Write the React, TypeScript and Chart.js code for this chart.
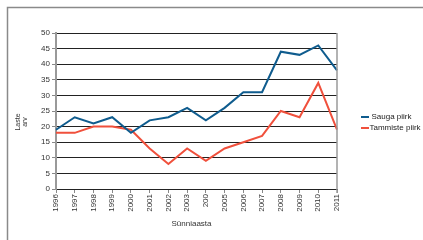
import React, { useEffect, useRef } from "react";
import { Chart, registerables } from "chart.js";

Chart.register(...registerables);

const years = ["1996", "1997", "1998", "1999", "2000", "2001", "2002", "2003", "200", "2005", "2006", "2007", "2008", "2009", "2010", "2011"];
const sauga = [19, 23, 21, 23, 18, 22, 23, 26, 22, 26, 31, 31, 44, 43, 46, 38];
const tammiste = [18, 18, 20, 20, 19, 13, 8, 13, 9, 13, 15, 17, 25, 23, 34, 19];
const seriesNames = ["Sauga piirk", "Tammiste piirk"];
const seriesColors = ["#0f5c8e", "#f0503c"];
const yTitle = ["Laste", "arv"];
const xTitle = "Sünniaasta";

const FONT = "'Liberation Sans', Arial, sans-serif";

const decorPlugin = {
  id: "decor",
  beforeDraw(chart: any) {
    const ctx = chart.ctx;
    ctx.save();
    ctx.strokeStyle = "#8a8a8a";
    ctx.lineWidth = 1.5;
    ctx.beginPath();
    ctx.moveTo(7.5, chart.height);
    ctx.lineTo(7.5, 7.5);
    ctx.lineTo(chart.width, 7.5);
    ctx.stroke();
    ctx.restore();
  },
  afterDraw(chart: any) {
    const ctx = chart.ctx;
    const ca = chart.chartArea;
    ctx.save();
    // right edge line
    ctx.strokeStyle = "#9a9a9a";
    ctx.lineWidth = 1.5;
    ctx.beginPath();
    ctx.moveTo(ca.right, ca.top);
    ctx.lineTo(ca.right, ca.bottom + 4);
    ctx.stroke();
    // y title
    ctx.fillStyle = "#333";
    ctx.font = `7px ${FONT}`;
    ctx.textAlign = "center";
    ctx.textBaseline = "middle";
    ctx.save();
    ctx.translate(21.5, 122);
    ctx.rotate(-Math.PI / 2);
    ctx.fillText(yTitle[0], 0, -3.5);
    ctx.fillText(yTitle[1], 0, 3.5);
    ctx.restore();
    // x title
    ctx.font = `8px ${FONT}`;
    ctx.fillText(xTitle, 191.5, 223.5);
    // legend
    chart.data.datasets.forEach((ds: any, i: number) => {
      const y = 117 + i * 11;
      ctx.strokeStyle = ds.borderColor;
      ctx.lineWidth = 2;
      ctx.beginPath();
      ctx.moveTo(361, y);
      ctx.lineTo(369, y);
      ctx.stroke();
      ctx.fillStyle = "#222";
      ctx.textAlign = "left";
      ctx.font = `8px ${FONT}`;
      ctx.fillText(ds.label, i === 0 ? 371.5 : 369.5, y);
    });
    ctx.restore();
  },
};

export default function App() {
  const ref = useRef<HTMLCanvasElement>(null);
  useEffect(() => {
    document.body.style.margin = "0";
    const chart = new Chart(ref.current!, {
      type: "line",
      data: {
        labels: years,
        datasets: [
          { label: seriesNames[0], data: sauga, borderColor: seriesColors[0], backgroundColor: seriesColors[0], borderWidth: 2, pointRadius: 0, tension: 0 },
          { label: seriesNames[1], data: tammiste, borderColor: seriesColors[1], backgroundColor: seriesColors[1], borderWidth: 2, pointRadius: 0, tension: 0 },
        ],
      },
      options: {
        animation: false,
        responsive: false,
        maintainAspectRatio: false,
        layout: { padding: { left: 0, top: 33, right: 86, bottom: 0 } },
        plugins: { legend: { display: false }, tooltip: { enabled: false } },
        scales: {
          x: {
            offset: false,
            afterFit: (s: any) => { s.height = 51; },
            grid: { display: true, drawOnChartArea: false, drawTicks: true, tickLength: 4, color: "#888" },
            border: { display: true, color: "#222", width: 1 },
            ticks: { autoSkip: false, maxRotation: 90, minRotation: 90, padding: 1, color: "#333", font: { family: FONT, size: 8 } },
          },
          y: {
            min: 0,
            max: 50,
            afterFit: (s: any) => { s.width = 56; },
            grid: { color: "#222", lineWidth: 1, tickLength: 4, tickColor: "#888" },
            border: { display: true, color: "#999", width: 2 },
            ticks: { stepSize: 5, padding: 2, color: "#333", font: { family: FONT, size: 8 } },
          },
        },
      },
      plugins: [decorPlugin],
    });
    return () => chart.destroy();
  }, []);
  return <canvas ref={ref} width={423} height={240} style={{ display: "block" }} />;
}
